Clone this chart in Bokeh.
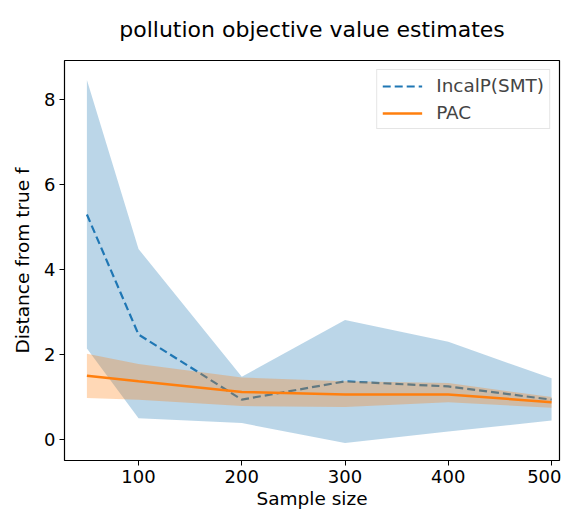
from bokeh.plotting import figure
from bokeh.models import Range1d, FixedTicker, Legend, LegendItem, ColumnDataSource
from bokeh.embed import file_html
from bokeh.resources import INLINE

title_text = "pollution objective value estimates"
sample_size = [50, 100, 200, 300, 400, 500]
incal_mean = [5.29, 2.47, 0.94, 1.37, 1.25, 0.94]
incal_upper = [8.45, 4.48, 1.48, 2.81, 2.30, 1.44]
incal_lower = [2.14, 0.50, 0.39, -0.08, 0.19, 0.45]
pac_mean = [1.50, 1.37, 1.12, 1.06, 1.06, 0.88]
pac_upper = [2.02, 1.78, 1.46, 1.37, 1.33, 1.00]
pac_lower = [0.98, 0.94, 0.79, 0.77, 0.88, 0.75]
x_ticks = [100, 200, 300, 400, 500]
y_ticks = [0, 2, 4, 6, 8]

FONT = "DejaVu Sans"
BLUE = "#1f77b4"
ORANGE = "#ff7f0e"

p = figure(width=561, height=513, output_backend="svg", toolbar_location=None,
           title=title_text,
           x_range=Range1d(28.3, 507.7), y_range=Range1d(-0.49, 8.91),
           min_border_left=64, min_border_right=2, min_border_top=60, min_border_bottom=53)

p.title.align = "center"
p.title.vertical_align = "top"
p.title.text_font = FONT
p.title.text_font_size = "22px"
p.title.text_font_style = "normal"
p.title.text_color = "black"
p.title.standoff = 33

src = ColumnDataSource(dict(x=sample_size, im=incal_mean, iu=incal_upper, il=incal_lower,
                            pm=pac_mean, pu=pac_upper, pl=pac_lower))

p.varea(x="x", y1="il", y2="iu", source=src, fill_color=BLUE, fill_alpha=0.3)
r1 = p.line(x="x", y="im", source=src, line_color=BLUE, line_width=2.2, line_dash="8 4")
p.varea(x="x", y1="pl", y2="pu", source=src, fill_color=ORANGE, fill_alpha=0.3)
r2 = p.line(x="x", y="pm", source=src, line_color=ORANGE, line_width=2.5)

p.xgrid.visible = False
p.ygrid.visible = False
p.outline_line_color = "black"
p.outline_line_width = 1.2

for ax in (p.xaxis[0], p.yaxis[0]):
    ax.major_label_text_font = FONT
    ax.major_label_text_font_size = "18px"
    ax.major_label_text_color = "black"
    ax.axis_label_text_font = FONT
    ax.axis_label_text_font_size = "18.5px"
    ax.axis_label_text_font_style = "normal"
    ax.axis_label_text_color = "black"
    ax.axis_line_color = None
    ax.major_tick_line_color = "black"
    ax.major_tick_in = 0
    ax.major_tick_out = 5
    ax.minor_tick_line_color = None

p.xaxis[0].ticker = FixedTicker(ticks=x_ticks)
p.yaxis[0].ticker = FixedTicker(ticks=y_ticks)
p.xaxis[0].axis_label = "Sample size"
p.yaxis[0].axis_label = "Distance from true f"
p.xaxis[0].axis_label_standoff = 2
p.yaxis[0].axis_label_standoff = 8
p.xaxis[0].major_label_standoff = 4
p.yaxis[0].major_label_standoff = 4

legend = Legend(items=[LegendItem(label="IncalP(SMT)", renderers=[r1]),
                       LegendItem(label="PAC", renderers=[r2])],
                location="top_right")
legend.label_text_font = FONT
legend.label_text_font_size = "18.4px"
legend.border_line_color = "#cccccc"
legend.border_line_width = 1
legend.glyph_width = 40
legend.glyph_height = 20
legend.label_standoff = 14
legend.spacing = 6
legend.padding = 5
legend.margin = 9
p.add_layout(legend)

open("out.html", "w").write(file_html(p, INLINE))
